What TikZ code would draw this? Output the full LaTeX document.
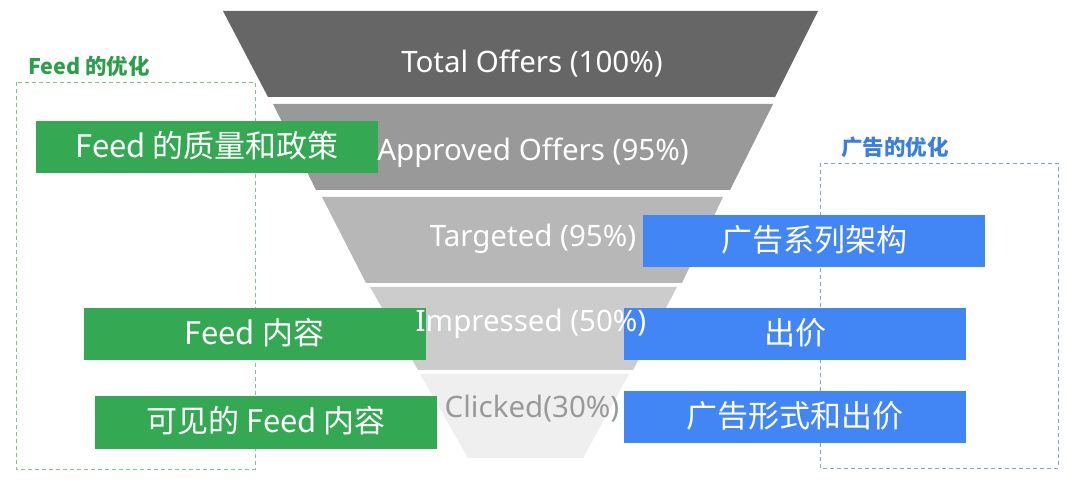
\documentclass[tikz,border=0pt]{standalone}
\usepackage{fontspec}
\setmainfont{Noto Sans}
\newfontfamily\cjk{Noto Sans CJK SC}
\definecolor{gGreen}{HTML}{34A853}
\definecolor{gBlue}{HTML}{4285F4}
\definecolor{gLabelGreen}{HTML}{2E9E4C}
\definecolor{gLabelBlue}{HTML}{3A7EE0}
\definecolor{dashGreen}{HTML}{7FC392}
\definecolor{dashBlue}{HTML}{86A3D3}
\definecolor{bandA}{HTML}{666666}
\definecolor{bandB}{HTML}{999999}
\definecolor{bandC}{HTML}{B7B7B7}
\definecolor{bandD}{HTML}{CCCCCC}
\definecolor{bandE}{HTML}{EFEFEF}
\definecolor{clickText}{HTML}{999999}
\tikzset{
  frame/.style={line width=0.9pt, dash pattern=on 4pt off 3pt},
  optbox/.style={inner sep=0pt, outer sep=0pt, minimum width=342pt, minimum height=52pt,
    text=white, font=\cjk\fontsize{31}{31}\selectfont, text height=26pt, text depth=5pt},
  greenbox/.style={optbox, fill=gGreen},
  bluebox/.style={optbox, fill=gBlue},
  bandtext/.style={anchor=base, inner sep=0pt, font=\fontsize{29.5}{30}\selectfont, text=white},
  grouplabel/.style={anchor=west, inner sep=0pt, font=\cjk\bfseries\fontsize{21.5}{21.5}\selectfont}
}
\begin{document}
\begin{tikzpicture}[x=1pt,y=-1pt]
\useasboundingbox (0,0) rectangle (1080,494);
\fill[white] (0,0) rectangle (1080,494);
% dashed group frames
\draw[frame, dashGreen] (16,82) rectangle (255,469);
\draw[frame, dashBlue] (820,163) rectangle (1058,468);
\node[grouplabel, text=gLabelGreen] (lg) at (28,66) {Feed 的优化};
\node[grouplabel, text=gLabelBlue] (lb) at (841,147) {广告的优化};
% funnel bands
\fill[bandA] (223,11) -- (818,11) -- (775,97) -- (268,97) -- cycle;
\fill[bandB] (273,104) -- (773,104) -- (730,190) -- (316,190) -- cycle;
\fill[bandC] (322,197) -- (723,197) -- (682,283) -- (366,283) -- cycle;
\fill[bandD] (370,287) -- (677,287) -- (633,370) -- (418,370) -- cycle;
\fill[bandE] (420,374) -- (629,374) -- (583,458) -- (468,458) -- cycle;
% optimisation boxes
\node[greenbox] (g1) at (207,147) {Feed 的质量和政策};
\node[greenbox] (g2) at (254.5,334) {Feed 内容};
\node[greenbox, minimum height=53pt] (g3) at (266,422.5) {可见的 Feed 内容};
\node[bluebox] (b1) at (814,241) {广告系列架构};
\node[bluebox] (b2) at (795,334) {出价};
\node[bluebox] (b3) at (795,417) {广告形式和出价};
% funnel texts
\node[bandtext] (t1) at (532,73) {Total Offers (100\%)};
\node[bandtext] (t2) at (533,161) {Approved Offers (95\%)};
\node[bandtext] (t3) at (533,247) {Targeted (95\%)};
\node[bandtext] (t4) at (531,332) {Impressed (50\%)};
\node[bandtext, text=clickText] (t5) at (532,418) {Clicked(30\%)};
\end{tikzpicture}
\end{document}
